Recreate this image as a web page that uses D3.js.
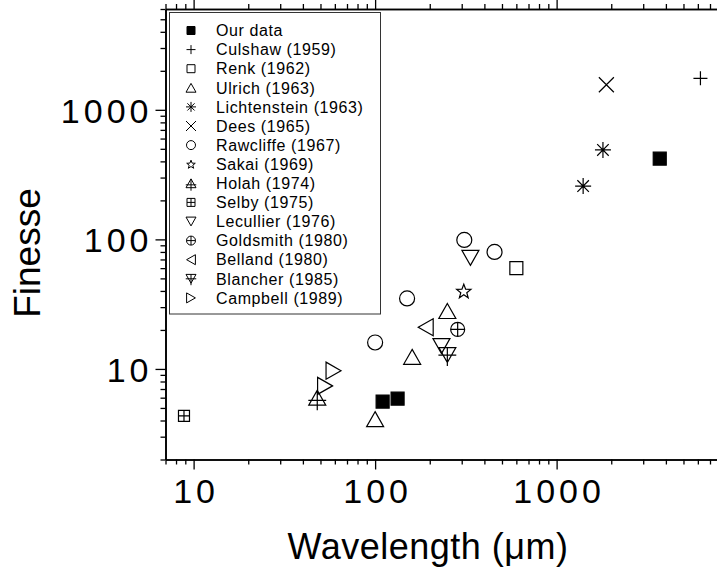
<!DOCTYPE html>
<html>
<head>
<meta charset="utf-8">
<script src="https://cdn.jsdelivr.net/npm/d3@7"></script>
<style>
  body { margin: 0; background: #fff; }
  #container { width: 717px; height: 569px; }
  text { font-family: "Liberation Sans", Arial, sans-serif; fill: #000; }
</style>
</head>
<body>
<div id="container"></div>
<script>
// series names as in the legend
var seriesNames = [
  "Our data", "Culshaw (1959)", "Renk (1962)", "Ulrich (1963)", "Lichtenstein (1963)",
  "Dees (1965)", "Rawcliffe (1967)", "Sakai (1969)", "Holah (1974)", "Selby (1975)",
  "Lecullier (1976)", "Goldsmith (1980)", "Belland (1980)", "Blancher (1985)", "Campbell (1989)"
];
// wavelength (um) per series
var seriesX = [
  [110, 133, 3700],
  [6200],
  [600],
  [100, 160, 250],
  [1400, 1800],
  [1880],
  [100, 150, 310, 455],
  [308],
  [48],
  [8.85],
  [232, 335],
  [285],
  [190],
  [250],
  [53, 59]
];
// finesse per series
var seriesY = [
  [5.6, 5.9, 420],
  [1750],
  [60],
  [4.1, 12.4, 28],
  [258, 490],
  [1560],
  [16, 35, 99, 80],
  [40],
  [6.0],
  [4.35],
  [15, 72],
  [20.2],
  [21],
  [12.8],
  [7.4, 9.7]
];
var markers = [
  "fsquare", "plus", "square", "tup", "aster", "times", "circle", "star",
  "holah", "selby", "tdown", "oplus", "tleft", "blancher", "tright"
];
var xTicks = [10, 100, 1000];
var yTicks = [10, 100, 1000];

var W = 717, H = 569;
var svg = d3.select("#container").append("svg").attr("width", W).attr("height", H);

var x = d3.scaleLog().domain([7, 8000]).range([165.5, 165.5 + 181.5 * Math.log10(8000 / 7)]);
var y = d3.scaleLog().domain([2, 6000]).range([459.5, 9]);

function minorOf(dom, majors) {
  var out = [];
  for (var e = -1; e < 5; e++) {
    for (var m = 2; m <= 9; m++) {
      var v = m * Math.pow(10, e);
      if (v >= dom[0] && v <= dom[1]) out.push(v);
    }
  }
  return out;
}

// marker shapes, s = full width
function markerPath(type, s) {
  var h = s / 2, p = d3.path();
  var th = s * 0.88 / 2;
  function tri(pts) {
    p.moveTo(pts[0][0], pts[0][1]);
    p.lineTo(pts[1][0], pts[1][1]);
    p.lineTo(pts[2][0], pts[2][1]);
    p.closePath();
  }
  function circ(r) { p.moveTo(r, 0); p.arc(0, 0, r, 0, 2 * Math.PI); }
  if (type == "fsquare" || type == "square") {
    p.rect(-h, -h, s, s);
  } else if (type == "selby") {
    p.rect(-h, -h, s, s);
    p.moveTo(-h, 0); p.lineTo(h, 0); p.moveTo(0, -h); p.lineTo(0, h);
  } else if (type == "plus") {
    p.moveTo(-h, 0); p.lineTo(h, 0); p.moveTo(0, -h); p.lineTo(0, h);
  } else if (type == "times") {
    p.moveTo(-h, -h); p.lineTo(h, h); p.moveTo(-h, h); p.lineTo(h, -h);
  } else if (type == "aster") {
    var k = h * 0.72;
    p.moveTo(-h, 0); p.lineTo(h, 0); p.moveTo(0, -h); p.lineTo(0, h);
    p.moveTo(-k, -k); p.lineTo(k, k); p.moveTo(-k, k); p.lineTo(k, -k);
  } else if (type == "circle") {
    circ(h);
  } else if (type == "oplus") {
    circ(h);
    p.moveTo(-h, 0); p.lineTo(h, 0); p.moveTo(0, -h); p.lineTo(0, h);
  } else if (type == "star") {
    for (var i = 0; i < 10; i++) {
      var r = i % 2 ? h * 0.42 : h;
      var a = -Math.PI / 2 + i * Math.PI / 5;
      if (i == 0) p.moveTo(r * Math.cos(a), r * Math.sin(a) + h * 0.1);
      else p.lineTo(r * Math.cos(a), r * Math.sin(a) + h * 0.1);
    }
    p.closePath();
  } else if (type == "tup") {
    tri([[0, -th], [h, th], [-h, th]]);
  } else if (type == "tdown") {
    tri([[0, th], [h, -th], [-h, -th]]);
  } else if (type == "tleft") {
    tri([[-th, 0], [th, -h], [th, h]]);
  } else if (type == "tright") {
    tri([[th, 0], [-th, -h], [-th, h]]);
  } else if (type == "holah") {
    tri([[0, -th], [h, th], [-h, th]]);
    p.moveTo(0, -th); p.lineTo(0, th + h * 0.6);
    p.moveTo(-h * 1.05, th * 0.35); p.lineTo(h * 1.05, th * 0.35);
  } else if (type == "blancher") {
    tri([[0, th], [h, -th], [-h, -th]]);
    p.moveTo(0, -th); p.lineTo(0, th + h * 0.4);
    p.moveTo(-h * 1.05, 0); p.lineTo(h * 1.05, 0);
  }
  return p.toString();
}

var plotSize = {
  fsquare: 13, square: 13, selby: 11, plus: 14, times: 15, aster: 16, circle: 15,
  oplus: 14, star: 15, tup: 17, tdown: 17, tleft: 17, tright: 17, holah: 17, blancher: 17
};

// axes
var fontTick = 34;
function styleAxis(g) {
  g.select(".domain").attr("stroke", "#000").attr("stroke-width", 1.6);
  g.selectAll(".tick line").attr("stroke", "#000").attr("stroke-width", 1.3);
}
var xMinor = minorOf(x.domain());
var yMinor = minorOf(y.domain());

var gb = svg.append("g").attr("transform", "translate(0," + y.range()[0] + ")");
gb.call(d3.axisBottom(x).tickValues(xTicks).tickSize(10).tickSizeOuter(0).tickFormat(d3.format("d")));
styleAxis(gb);
gb.selectAll(".tick text")
  .attr("y", 0).attr("dy", 0)
  .attr("transform", "translate(2,43)")
  .style("font-size", fontTick + "px")
  .style("letter-spacing", "4px")
  .style("font-family", "'Liberation Sans', Arial, sans-serif");
var gbm = svg.append("g").attr("transform", "translate(0," + y.range()[0] + ")");
gbm.call(d3.axisBottom(x).tickValues(xMinor).tickSize(5).tickSizeOuter(0).tickFormat(""));
styleAxis(gbm);

var gt = svg.append("g").attr("transform", "translate(0," + y.range()[1] + ")");
gt.call(d3.axisTop(x).tickValues(xTicks).tickSize(10).tickSizeOuter(0).tickFormat(""));
styleAxis(gt);
var gtm = svg.append("g").attr("transform", "translate(0," + y.range()[1] + ")");
gtm.call(d3.axisTop(x).tickValues(xMinor).tickSize(5).tickSizeOuter(0).tickFormat(""));
styleAxis(gtm);

var gl = svg.append("g").attr("transform", "translate(" + x.range()[0] + ",0)");
gl.call(d3.axisLeft(y).tickValues(yTicks).tickSize(10).tickSizeOuter(0).tickFormat(d3.format("d")));
styleAxis(gl);
gl.selectAll(".tick text")
  .attr("x", -13).attr("dy", "0.36em")
  .style("font-size", fontTick + "px")
  .style("letter-spacing", "4px")
  .style("font-family", "'Liberation Sans', Arial, sans-serif");
var glm = svg.append("g").attr("transform", "translate(" + x.range()[0] + ",0)");
glm.call(d3.axisLeft(y).tickValues(yMinor).tickSize(5).tickSizeOuter(0).tickFormat(""));
styleAxis(glm);

// axis titles
svg.append("text")
  .attr("x", 428).attr("y", 559)
  .attr("text-anchor", "middle")
  .style("font-size", "36px")
  .style("letter-spacing", "0.5px")
  .text("Wavelength (\u03bcm)");
svg.append("text")
  .attr("transform", "translate(40,253) rotate(-90)")
  .attr("text-anchor", "middle")
  .style("font-size", "37px")
  .text("Finesse");

// data points
var pts = [];
seriesNames.forEach(function (name, i) {
  seriesX[i].forEach(function (v, j) {
    pts.push({ s: i, x: v, y: seriesY[i][j] });
  });
});
svg.append("g").attr("class", "points")
  .selectAll("path")
  .data(pts)
  .enter()
  .append("path")
  .attr("transform", function (d) { return "translate(" + x(d.x) + "," + y(d.y) + ")"; })
  .attr("d", function (d) { return markerPath(markers[d.s], plotSize[markers[d.s]]); })
  .attr("fill", function (d) { return markers[d.s] == "fsquare" ? "#000" : "none"; })
  .attr("stroke", "#000")
  .attr("stroke-width", 1.2);

// legend
var legend = svg.append("g").attr("class", "legend");
legend.append("rect")
  .attr("x", 169.5).attr("y", 12.5)
  .attr("width", 211).attr("height", 301.5)
  .attr("fill", "#fff")
  .attr("stroke", "#333")
  .attr("stroke-width", 1);
var item = legend.selectAll("g.item")
  .data(seriesNames)
  .enter()
  .append("g")
  .attr("class", "item")
  .attr("transform", function (d, i) { return "translate(0," + (30.5 + i * 19.1) + ")"; });
item.append("path")
  .attr("transform", "translate(191,0)")
  .attr("d", function (d, i) {
    var m = markers[i];
    var s = m == "fsquare" || m == "square" || m == "selby" ? 8 : (m == "plus" || m == "star" || m == "circle" || m == "oplus" ? 9 : 10);
    return markerPath(m, s);
  })
  .attr("fill", function (d, i) { return markers[i] == "fsquare" ? "#000" : "none"; })
  .attr("stroke", "#000")
  .attr("stroke-width", 1);
item.append("text")
  .attr("x", 216).attr("dy", "0.36em")
  .style("font-size", "16px")
  .style("letter-spacing", "0.6px")
  .text(function (d) { return d; });
</script>
</body>
</html>
